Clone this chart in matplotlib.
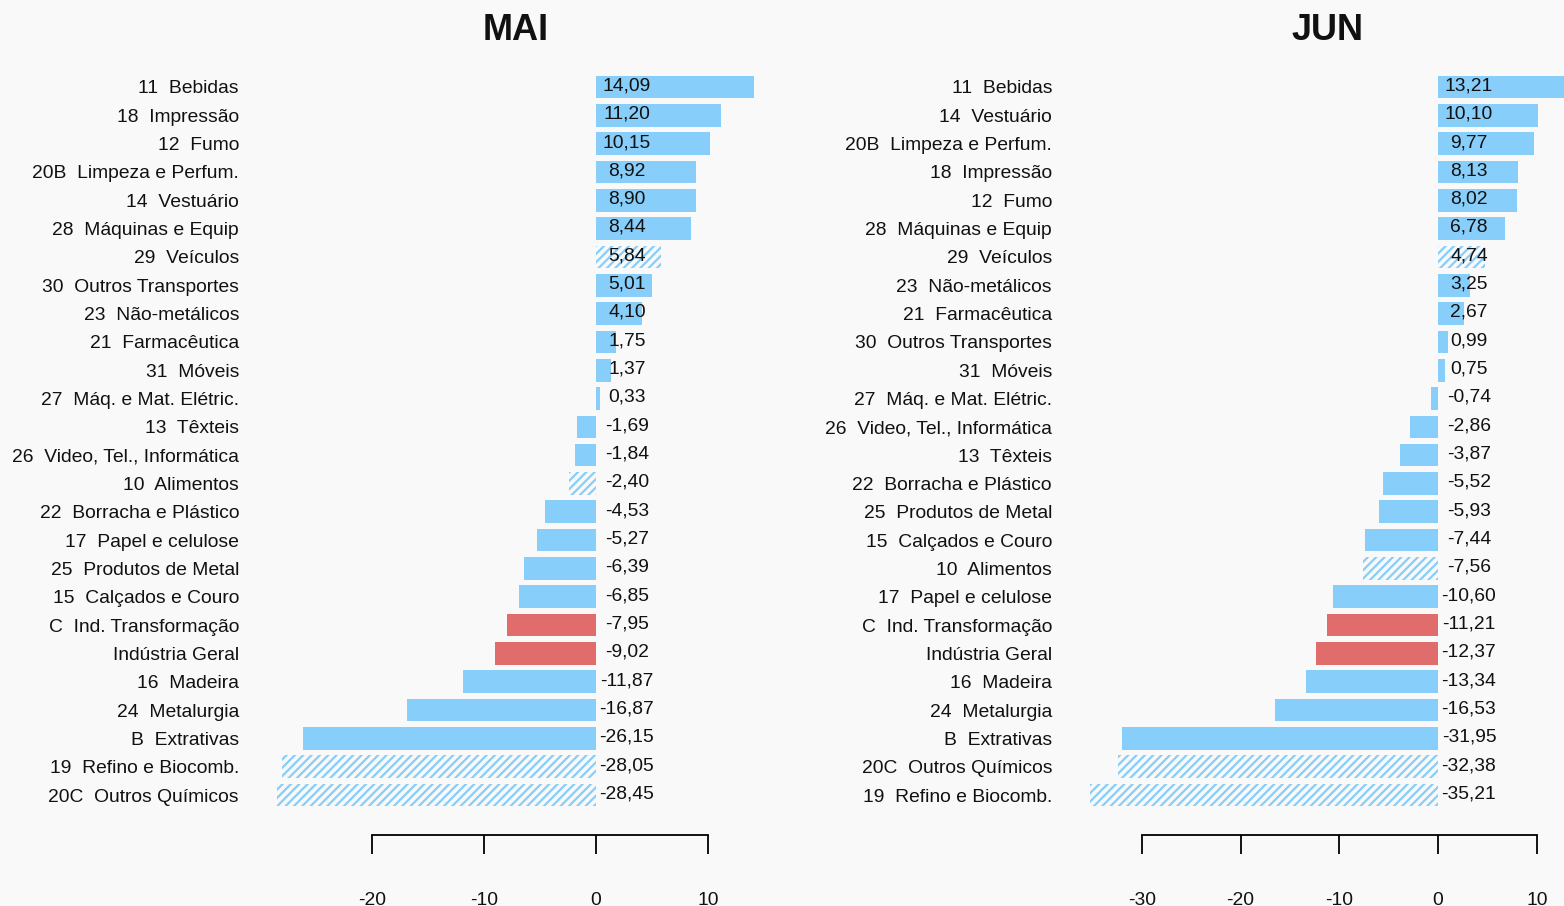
import matplotlib.pyplot as plt

plt.rcParams.update({
    'font.family': ['Liberation Sans', 'DejaVu Sans'],
    'font.size': 13.9,
    'hatch.linewidth': 1.6,
})

BG = '#f9f9f9'
BLUE = '#87cefa'
RED = '#e06c6c'

# MAI (top to bottom)
mai_codes = ['11', '18', '12', '20B', '14', '28', '29', '30', '23', '21', '31', '27', '13',
             '26', '10', '22', '17', '25', '15', 'C', '', '16', '24', 'B', '19', '20C']
mai_names = ['Bebidas', 'Impressão', 'Fumo', 'Limpeza e Perfum.', 'Vestuário', 'Máquinas e Equip',
             'Veículos', 'Outros Transportes', 'Não-metálicos', 'Farmacêutica', 'Móveis',
             'Máq. e Mat. Elétric.', 'Têxteis', 'Video, Tel., Informática', 'Alimentos',
             'Borracha e Plástico', 'Papel e celulose', 'Produtos de Metal', 'Calçados e Couro',
             'Ind. Transformação', 'Indústria Geral', 'Madeira', 'Metalurgia', 'Extrativas',
             'Refino e Biocomb.', 'Outros Químicos']
mai_values = [14.09, 11.20, 10.15, 8.92, 8.90, 8.44, 5.84, 5.01, 4.10, 1.75, 1.37, 0.33, -1.69,
              -1.84, -2.40, -4.53, -5.27, -6.39, -6.85, -7.95, -9.02, -11.87, -16.87, -26.15,
              -28.05, -28.45]

# JUN (top to bottom)
jun_codes = ['11', '14', '20B', '18', '12', '28', '29', '23', '21', '30', '31', '27', '26',
             '13', '22', '25', '15', '10', '17', 'C', '', '16', '24', 'B', '20C', '19']
jun_names = ['Bebidas', 'Vestuário', 'Limpeza e Perfum.', 'Impressão', 'Fumo', 'Máquinas e Equip',
             'Veículos', 'Não-metálicos', 'Farmacêutica', 'Outros Transportes', 'Móveis',
             'Máq. e Mat. Elétric.', 'Video, Tel., Informática', 'Têxteis', 'Borracha e Plástico',
             'Produtos de Metal', 'Calçados e Couro', 'Alimentos', 'Papel e celulose',
             'Ind. Transformação', 'Indústria Geral', 'Madeira', 'Metalurgia', 'Extrativas',
             'Outros Químicos', 'Refino e Biocomb.']
jun_values = [13.21, 10.10, 9.77, 8.13, 8.02, 6.78, 4.74, 3.25, 2.67, 0.99, 0.75, -0.74, -2.86,
              -3.87, -5.52, -5.93, -7.44, -7.56, -10.60, -11.21, -12.37, -13.34, -16.53, -31.95,
              -32.38, -35.21]

hatched = {'29', '10', '19', '20C'}
aggregate = {'C', ''}

W, H = 1564, 906
fig = plt.figure(figsize=(W / 100, H / 100), dpi=100, facecolor=BG)


def panel(title, codes, names, values, left, right, zero, scale, ticks, label_right, title_x):
    top_px, bot_px = 70, 810
    ax = fig.add_axes([left / W, 1 - bot_px / H, (right - left) / W, (bot_px - top_px) / H])
    ax.set_facecolor('none')
    ax.set_xlim((left - zero) / scale, (right - zero) / scale)
    row0, step = 87, 28.32
    ax.set_ylim((bot_px - row0) / step, (top_px - row0) / step)

    for i, (c, v) in enumerate(zip(codes, values)):
        if c in hatched:
            ax.barh(i, v, height=0.8, facecolor='none', edgecolor=BLUE, linewidth=0,
                    hatch='////')
        elif c in aggregate:
            ax.barh(i, v, height=0.8, color=RED, linewidth=0)
        else:
            ax.barh(i, v, height=0.8, color=BLUE, linewidth=0)
        ax.text(31 / scale, i - 0.04, f'{v:.2f}'.replace('.', ','),
                ha='center', va='center', color='#111111')

    labels = [f'{c}  {n}' if c else n for c, n in zip(codes, names)]
    ax.set_yticks(range(len(labels)), labels)
    ax.tick_params(axis='y', length=0, pad=(left - label_right) * 0.72, labelcolor='#111111')

    for s in ('left', 'top', 'right'):
        ax.spines[s].set_visible(False)
    ax.spines['bottom'].set_position(('outward', 18))
    ax.spines['bottom'].set_bounds(ticks[0], ticks[-1])
    ax.spines['bottom'].set_linewidth(1.3)
    ax.set_xticks(ticks, [str(t) for t in ticks])
    ax.tick_params(axis='x', direction='out', length=13.7, width=1.3, pad=27,
                   labelcolor='#111111')

    fig.text(title_x / W, 1 - 31 / H, title, ha='center', va='center',
             fontsize=26, fontweight='bold', color='#111111')


panel('MAI', mai_codes, mai_names, mai_values, 260, 800, 596, 11.2,
      [-20, -10, 0, 10], 239, 516)
panel('JUN', jun_codes, jun_names, jun_values, 1070, 1564, 1438, 9.875,
      [-30, -20, -10, 0, 10], 1052, 1328)

fig.savefig('out.png', dpi=100, facecolor=BG)
